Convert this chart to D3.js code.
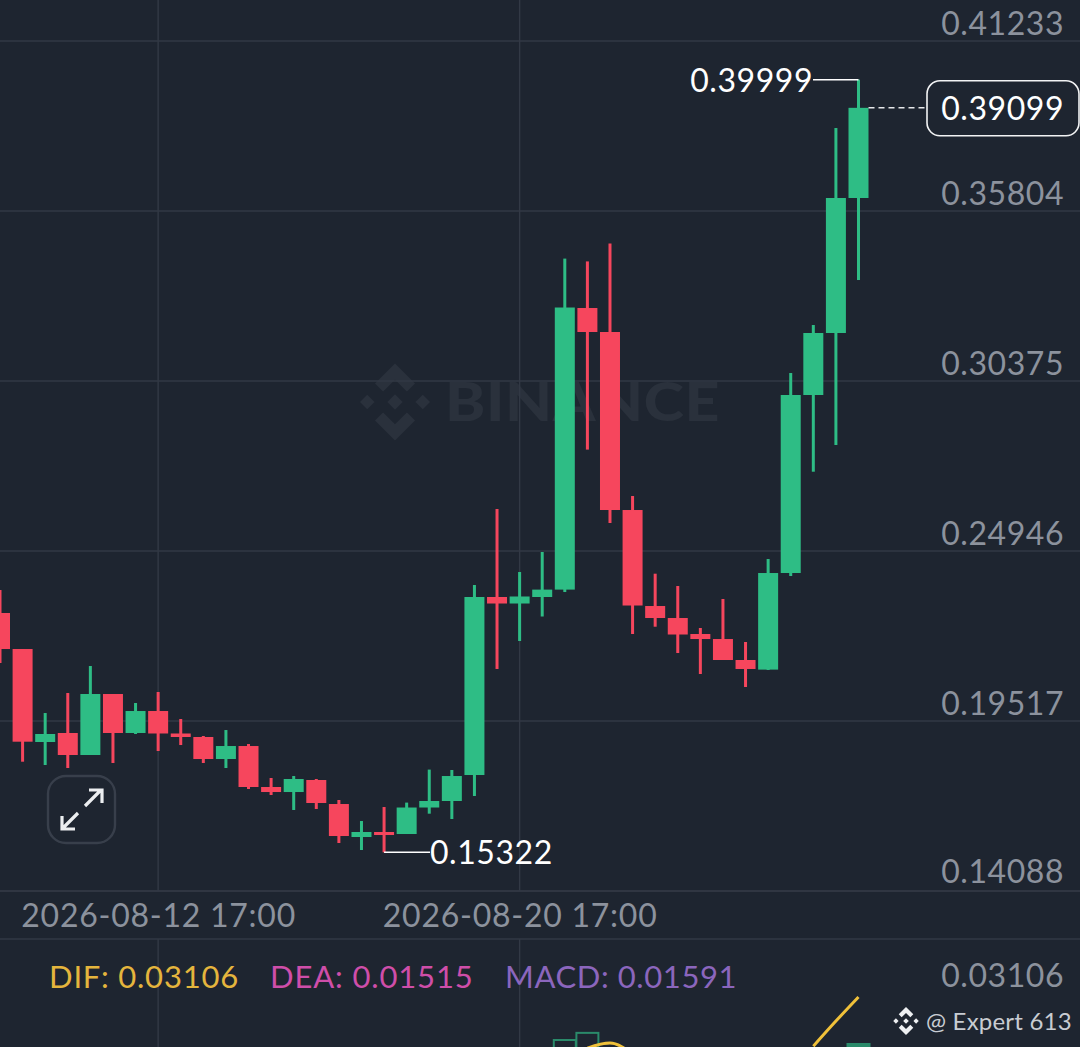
<!DOCTYPE html>
<html>
<head>
<meta charset="utf-8">
<script src="https://cdn.jsdelivr.net/npm/d3@7"></script>
<style>
html, body { margin: 0; padding: 0; background: #1e2530; overflow: hidden; }
svg { display: block; }
text { font-family: Lato, "Open Sans", sans-serif; letter-spacing: .55px; }
</style>
</head>
<body>
<script>
// candles, oldest first
var opens = [.22966,.21816,.18846,.19134,.18431,.20379,.19134,.19836,.19118,.19006,.18303,.18718,.17409,.17249,.17633,.16866,.15812,.15972,.15908,.16754,.16962,.17792,.23477,.23269,.23477,.23713,.32706,.31940,.26255,.23189,.22806,.22295,.22135,.21465,.21158,.24243,.29928,.31908,.36219];
var highs = [.23700,.21816,.19772,.20411,.21273,.20379,.20092,.20443,.19581,.19038,.19229,.18782,.17697,.17760,.17665,.16994,.16323,.16770,.16911,.17965,.17952,.23860,.26287,.24275,.24914,.34284,.34194,.34766,.26702,.24221,.23828,.22487,.23413,.22040,.24690,.30630,.32163,.38454,.39999];
var lows = [.21369,.18217,.18112,.18016,.18431,.18176,.19102,.18559,.18750,.18176,.18016,.17345,.17154,.16675,.16707,.15621,.15397,.15322,.15908,.16557,.16387,.17122,.21178,.22072,.22854,.23636,.28184,.25840,.22295,.22528,.21688,.21018,.21465,.20603,.21146,.24147,.27478,.28331,.33600];
var closes = [.21816,.18856,.19102,.18431,.20379,.19134,.19836,.19118,.19006,.18303,.18718,.17409,.17249,.17665,.16898,.15844,.15972,.15876,.16754,.16962,.17760,.23477,.23269,.23493,.23713,.32722,.31940,.26255,.23205,.22806,.22279,.22135,.21465,.21178,.24243,.29928,.31908,.36219,.39099];

var priceTicks = [.41233,.35804,.30375,.24946,.19517,.14088];
var timeTicks = [7, 23];
var timeLabels = {7: "2026-08-12 17:00", 23: "2026-08-20 17:00"};

// macd pane, only the bits that stick into the picture
var difValues = [null,null,null,null,null,null,null,null,null,null,null,null,null,null,null,null,null,null,null,null,null,null,null,null,null,null,.0146,.0162,.0127,null,null,null,null,null,null,null,.0152,.0233,.03106];
var macdBars = [[25, .0172], [26, .0195], [38, .01591]];

var width = 1080, height = 1047;
var bg = "#1e2530", gridColor = "#323945", labelColor = "#8c929d";
var green = "#2ebd85", red = "#f6465d";

var svg = d3.select("body").append("svg")
	.attr("width", width)
	.attr("height", height);

var x = d3.scaleLinear().domain([0, 38]).range([0, 858.5]);
var y = d3.scaleLinear().domain([.41233, .14088]).range([41, 891]);
var yMacd = d3.scaleLinear().domain([.03106, .01591]).range([997, 1044]);

var candles = opens.map(function (o, i) {
	return { i: i, o: o, h: highs[i], l: lows[i], c: closes[i] };
});

// binance mark, unit size around 0,0
var logoShapes = [
	"M0,-1L.52,-.48L.31,-.27L0,-.58L-.31,-.27L-.52,-.48Z",
	"M0,1L.52,.48L.31,.27L0,.58L-.31,.27L-.52,.48Z",
	"M0,-.2L.2,0L0,.2L-.2,0Z",
	"M-.72,-.19L-.53,0L-.72,.19L-.91,0Z",
	"M.72,-.19L.91,0L.72,.19L.53,0Z"
];
function drawLogo(cx, cy, size, color) {
	svg.append("g")
		.attr("transform", "translate(" + cx + "," + cy + ") scale(" + size + ")")
		.selectAll("path")
		.data(logoShapes)
		.enter()
		.append("path")
		.attr("d", function (d) { return d; })
		.attr("fill", color);
}

/********** watermark **********/
drawLogo(395, 402, 38.5, "#2a313c");
svg.append("text")
	.attr("x", 445)
	.attr("y", 421)
	.attr("font-size", 54)
	.attr("font-weight", 900)
	.attr("textLength", 275)
	.attr("lengthAdjust", "spacingAndGlyphs")
	.attr("fill", "#2a313c")
	.text("BINANCE");

/********** grid **********/
svg.selectAll(".hgrid")
	.data(priceTicks)
	.enter()
	.append("line")
	.attr("class", "hgrid")
	.attr("x1", 0)
	.attr("x2", width)
	.attr("y1", function (d) { return y(d); })
	.attr("y2", function (d) { return y(d); })
	.attr("stroke", gridColor)
	.attr("stroke-width", 1.4);

svg.selectAll(".vgrid")
	.data(timeTicks)
	.enter()
	.append("path")
	.attr("class", "vgrid")
	.attr("d", function (d) {
		return "M" + x(d) + ",0V891M" + x(d) + ",939V" + height;
	})
	.attr("stroke", gridColor)
	.attr("stroke-width", 1.4);

svg.append("line")
	.attr("x1", 0)
	.attr("x2", width)
	.attr("y1", 939)
	.attr("y2", 939)
	.attr("stroke", gridColor)
	.attr("stroke-width", 1.6);

/********** candles **********/
var candle = svg.selectAll(".candle")
	.data(candles)
	.enter()
	.append("g")
	.attr("class", "candle")
	.attr("fill", function (d) { return d.c >= d.o ? green : red; });

candle.append("rect")
	.attr("x", function (d) { return x(d.i) - 1.5; })
	.attr("width", 3)
	.attr("y", function (d) { return y(d.h); })
	.attr("height", function (d) { return y(d.l) - y(d.h); });

candle.append("rect")
	.attr("x", function (d) { return x(d.i) - 10; })
	.attr("width", 20)
	.attr("y", function (d) { return y(Math.max(d.o, d.c)); })
	.attr("height", function (d) { return Math.max(y(Math.min(d.o, d.c)) - y(Math.max(d.o, d.c)), 2); });

/********** axes **********/
var priceAxis = d3.axisLeft(y)
	.tickValues(priceTicks)
	.tickSize(0)
	.tickFormat(d3.format(".5f"));
var priceG = svg.append("g")
	.attr("transform", "translate(1064,0)")
	.call(priceAxis);
priceG.select(".domain").remove();
priceG.selectAll("text")
	.attr("x", 0)
	// bottom label sits a bit higher so it clears the pane edge
	.attr("dy", function (d) { return d == priceTicks[5] ? -9 : -6.5; })
	.attr("font-size", 32)
	.attr("font-family", "Lato")
	.attr("fill", labelColor);

var timeAxis = d3.axisBottom(x)
	.tickValues(timeTicks)
	.tickSize(0)
	.tickFormat(function (d) { return timeLabels[d]; });
var timeG = svg.append("g")
	.attr("transform", "translate(0,891)")
	.call(timeAxis);
timeG.select(".domain").attr("stroke", gridColor).attr("stroke-width", 1.6).attr("d", "M0,0H" + width);
timeG.selectAll("text")
	.attr("y", 36)
	.attr("dy", 0)
	.attr("font-size", 32)
	.attr("font-family", "Lato")
	.attr("fill", labelColor)
	.style("letter-spacing", ".75px");

/********** high / low / last **********/
var lastClose = closes[closes.length - 1];
var maxHigh = d3.max(highs), minLow = d3.min(lows);
var lastX = x(closes.length - 1);
var lowX = x(lows.indexOf(minLow));

svg.append("path")
	.attr("d", "M813," + y(maxHigh) + "H" + lastX)
	.attr("stroke", "#fff")
	.attr("stroke-width", 1.5)
	.attr("fill", "none");
svg.append("text")
	.attr("x", 813)
	.attr("y", y(maxHigh) + 12)
	.attr("text-anchor", "end")
	.attr("font-size", 32)
	.attr("fill", "#fff")
	.text(maxHigh.toFixed(5));

svg.append("path")
	.attr("d", "M" + lowX + "," + y(minLow) + "H430")
	.attr("stroke", "#fff")
	.attr("stroke-width", 1.5)
	.attr("fill", "none");
svg.append("text")
	.attr("x", 430)
	.attr("y", y(minLow) + 12)
	.attr("font-size", 32)
	.attr("fill", "#fff")
	.text(minLow.toFixed(5));

svg.append("line")
	.attr("x1", lastX + 10)
	.attr("x2", 926)
	.attr("y1", y(lastClose))
	.attr("y2", y(lastClose))
	.attr("stroke", "#e6e8ea")
	.attr("stroke-width", 1.4)
	.attr("stroke-dasharray", "6,4");
svg.append("rect")
	.attr("x", 927)
	.attr("y", y(lastClose) - 27)
	.attr("width", 152)
	.attr("height", 55)
	.attr("rx", 13)
	.attr("fill", bg)
	.attr("stroke", "#f2f3f4")
	.attr("stroke-width", 1.6);
svg.append("text")
	.attr("x", 1064)
	.attr("y", y(lastClose) + 12)
	.attr("text-anchor", "end")
	.attr("font-size", 32)
	.attr("fill", "#fff")
	.text(lastClose.toFixed(5));

/********** expand button **********/
svg.append("rect")
	.attr("x", 48)
	.attr("y", 776)
	.attr("width", 67)
	.attr("height", 67)
	.attr("rx", 18)
	.attr("fill", bg)
	.attr("stroke", "#383f4b")
	.attr("stroke-width", 2.4);
svg.append("path")
	.attr("d", "M85,806L101,790M89,790H102V803M78,813L62,829M62,816V829H75")
	.attr("fill", "none")
	.attr("stroke", "#eceef0")
	.attr("stroke-width", 3.2);

/********** macd pane **********/
svg.selectAll(".macdBar")
	.data(macdBars)
	.enter()
	.append("rect")
	.attr("class", "macdBar")
	.attr("x", function (d) { return x(d[0]) - 11; })
	.attr("width", 22)
	.attr("y", function (d) { return yMacd(d[1]); })
	.attr("height", function (d) { return height + 10 - yMacd(d[1]); })
	.attr("fill", function (d) { return d[0] == 38 ? "#2a8a6a" : "none"; })
	.attr("stroke", "#2a8a6a")
	.attr("stroke-width", 2);

var difLine = d3.line()
	.defined(function (d) { return d !== null; })
	.x(function (d, i) { return x(i); })
	.y(function (d) { return yMacd(d); })
	.curve(d3.curveMonotoneX);
svg.append("path")
	.attr("d", difLine(difValues))
	.attr("fill", "none")
	.attr("stroke", "#f0c13a")
	.attr("stroke-width", 3);

var macdLegend = [
	{ t: "DIF: 0.03106", x: 49, c: "#e5b53d", s: .8 },
	{ t: "DEA: 0.01515", x: 270, c: "#cf4ea9", s: .85 },
	{ t: "MACD: 0.01591", x: 505, c: "#8b66bd", s: .6 }
];
svg.selectAll(".legend")
	.data(macdLegend)
	.enter()
	.append("text")
	.attr("class", "legend")
	.attr("x", function (d) { return d.x; })
	.attr("y", 988)
	.attr("font-size", 31)
	.attr("fill", function (d) { return d.c; })
	.style("letter-spacing", function (d) { return d.s + "px"; })
	.text(function (d) { return d.t; });

svg.append("text")
	.attr("x", 1064)
	.attr("y", 987)
	.attr("text-anchor", "end")
	.attr("font-size", 32)
	.attr("fill", labelColor)
	.text(difValues[38].toFixed(5));

/********** author tag **********/
drawLogo(906, 1021, 14, "#eef0f2");
svg.append("text")
	.attr("x", 926)
	.attr("y", 1030)
	.attr("font-size", 24)
	.attr("fill", "#c8ccd2")
	.style("letter-spacing", ".2px")
	.text("@ Expert 613");
</script>
</body>
</html>
